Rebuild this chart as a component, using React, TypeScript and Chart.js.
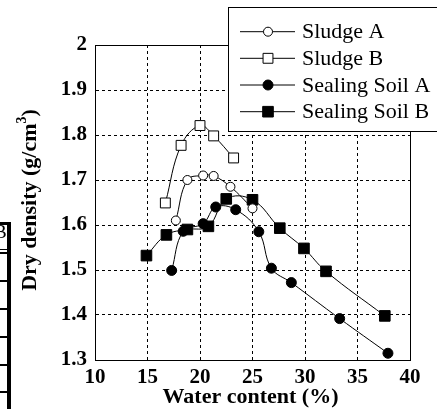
import React, { useEffect, useRef } from "react";
import { Chart, registerables } from "chart.js";

Chart.register(...registerables);

// Compaction curves: water content (%) vs dry density (g/cm3)
const sludgeAWater = [17.7, 18.8, 20.3, 21.3, 22.9, 25.0];
const sludgeADensity = [1.61, 1.70, 1.71, 1.709, 1.685, 1.637];

const sludgeBWater = [16.7, 18.2, 20.0, 21.3, 23.2];
const sludgeBDensity = [1.649, 1.777, 1.821, 1.798, 1.749];

const sealingAWater = [17.3, 18.4, 20.3, 21.5, 23.4, 25.6, 26.8, 28.7, 33.3, 37.9];
const sealingADensity = [1.499, 1.586, 1.603, 1.64, 1.634, 1.585, 1.504, 1.472, 1.392, 1.315];

const sealingBWater = [14.9, 16.8, 18.8, 20.8, 22.5, 25.0, 27.6, 29.9, 32.0, 37.6];
const sealingBDensity = [1.532, 1.578, 1.59, 1.597, 1.658, 1.656, 1.593, 1.548, 1.497, 1.398];

const seriesNames = ["Sludge A", "Sludge B", "Sealing Soil A", "Sealing Soil B"];

const xTitle = "Water content (%)";
const yTitleMain = "Dry density (g/cm";
const yTitleSup = "3";
const yTitleEnd = ")";

const SERIF = '"Liberation Serif", "Times New Roman", Times, serif';

const toPoints = (xs: number[], ys: number[]) => xs.map((x, i) => ({ x, y: ys[i] }));

// Solid frame around the plotting area (grid lines are dashed)
const framePlugin = {
  id: "frame",
  beforeDatasetsDraw(chart: any) {
    const { ctx, chartArea } = chart;
    const l = Math.round(chartArea.left) + 0.5;
    const t = Math.round(chartArea.top) + 0.5;
    const r = Math.round(chartArea.right) + 0.5;
    const b = Math.round(chartArea.bottom) + 0.5;
    ctx.save();
    ctx.setLineDash([]);
    ctx.strokeStyle = "#000";
    ctx.lineWidth = 1;
    ctx.strokeRect(l, t, r - l, b - t);
    ctx.restore();
  },
};

// Axis titles, including the superscript in the density unit
const titlesPlugin = {
  id: "titles",
  afterDraw(chart: any) {
    const { ctx, chartArea } = chart;
    ctx.save();
    ctx.fillStyle = "#000";
    ctx.font = `bold 22px ${SERIF}`;
    ctx.textAlign = "center";
    ctx.textBaseline = "middle";
    ctx.fillText(xTitle, (chartArea.left + chartArea.right) / 2 - 2, 397);

    const mainFont = `bold 22px ${SERIF}`;
    const supFont = `bold 14px ${SERIF}`;
    ctx.font = mainFont;
    const wMain = ctx.measureText(yTitleMain).width;
    const wEnd = ctx.measureText(yTitleEnd).width;
    ctx.font = supFont;
    const wSup = ctx.measureText(yTitleSup).width;
    const total = wMain + wSup + wEnd;
    ctx.translate(30, 200);
    ctx.rotate(-Math.PI / 2);
    ctx.textAlign = "left";
    let x = -total / 2;
    ctx.font = mainFont;
    ctx.fillText(yTitleMain, x, 0);
    x += wMain;
    ctx.font = supFont;
    ctx.fillText(yTitleSup, x, -8);
    x += wSup;
    ctx.font = mainFont;
    ctx.fillText(yTitleEnd, x, 0);
    ctx.restore();
  },
};

// Boxed legend with line-and-marker samples
const legendPlugin = {
  id: "boxLegend",
  afterDraw(chart: any) {
    const { ctx } = chart;
    const boxL = 228.5;
    const boxT = 7.5;
    const boxB = 131.5;
    ctx.save();
    ctx.setLineDash([]);
    ctx.fillStyle = "#fff";
    ctx.fillRect(boxL, boxT, 440 - boxL, boxB - boxT);
    ctx.strokeStyle = "#000";
    ctx.lineWidth = 1;
    ctx.strokeRect(boxL, boxT, 440 - boxL, boxB - boxT);
    const rowY = [31.7, 58.3, 85, 111.7];
    chart.data.datasets.forEach((ds: any, i: number) => {
      const y = rowY[i];
      ctx.strokeStyle = "#000";
      ctx.lineWidth = 1;
      ctx.beginPath();
      ctx.moveTo(240, y);
      ctx.lineTo(295, y);
      ctx.stroke();
      const cx = 268;
      ctx.fillStyle = ds.pointBackgroundColor;
      ctx.beginPath();
      if (ds.pointStyle === "rect") {
        const s = Math.SQRT1_2 * ds.pointRadius;
        ctx.rect(cx - s, y - s, 2 * s, 2 * s);
      } else {
        ctx.arc(cx, y, ds.pointRadius, 0, Math.PI * 2);
      }
      ctx.fill();
      ctx.stroke();
      ctx.fillStyle = "#000";
      ctx.font = `22px ${SERIF}`;
      ctx.textAlign = "left";
      ctx.textBaseline = "middle";
      ctx.fillText(ds.label, 302, y + 1);
    });
    ctx.restore();
  },
};

export default function App() {
  const canvasRef = useRef<HTMLCanvasElement>(null);

  useEffect(() => {
    const canvas = canvasRef.current;
    if (!canvas) return;

    const common = {
      borderColor: "#000",
      borderWidth: 1,
      pointBorderColor: "#000",
      pointBorderWidth: 1,
      tension: 0.4,
      showLine: true,
      fill: false,
      clip: false as any,
    };

    const tickFont = { family: SERIF, size: 21, weight: "bold" };

    const chart = new Chart(canvas, {
      type: "line",
      data: {
        datasets: [
          {
            ...common,
            label: seriesNames[0],
            data: toPoints(sludgeAWater, sludgeADensity),
            pointStyle: "circle",
            pointRadius: 4.5,
            pointBackgroundColor: "#fff",
          },
          {
            ...common,
            label: seriesNames[1],
            data: toPoints(sludgeBWater, sludgeBDensity),
            pointStyle: "rect",
            pointRadius: 7,
            pointBackgroundColor: "#fff",
          },
          {
            ...common,
            label: seriesNames[2],
            data: toPoints(sealingAWater, sealingADensity),
            pointStyle: "circle",
            pointRadius: 5,
            pointBackgroundColor: "#000",
          },
          {
            ...common,
            label: seriesNames[3],
            data: toPoints(sealingBWater, sealingBDensity),
            pointStyle: "rect",
            pointRadius: 7.5,
            pointBackgroundColor: "#000",
          },
        ] as any,
      },
      options: {
        responsive: false,
        devicePixelRatio: 1,
        animation: false,
        layout: { padding: { top: 45, right: 27, left: 0, bottom: 0 } },
        plugins: {
          legend: { display: false },
          tooltip: { enabled: false },
        },
        scales: {
          x: {
            type: "linear",
            min: 10,
            max: 40,
            ticks: {
              stepSize: 5,
              color: "#000",
              padding: 5,
              font: tickFont,
              callback: (v: any) => String(Math.round(Number(v))),
            },
            grid: { color: "#000", lineWidth: 1, drawTicks: false },
            border: { display: true, color: "#000", width: 1, dash: [3, 3] },
            afterFit: (scale: any) => {
              scale.height = 49;
            },
          },
          y: {
            type: "linear",
            min: 1.3,
            max: 2,
            ticks: {
              stepSize: 0.1,
              color: "#000",
              padding: 8,
              font: tickFont,
              callback: (v: any) => {
                const n = Number(v);
                return Math.abs(n - 2) < 1e-6 ? "2" : n.toFixed(1);
              },
            },
            grid: { color: "#000", lineWidth: 1, drawTicks: false },
            border: { display: true, color: "#000", width: 1, dash: [3, 3] },
            afterFit: (scale: any) => {
              scale.width = 95;
            },
          },
        },
      } as any,
      plugins: [framePlugin, titlesPlugin, legendPlugin],
    });

    return () => chart.destroy();
  }, []);

  const rule = (top: number, h: number) => (
    <div style={{ position: "absolute", left: 0, top, width: 10, height: h, background: "#000" }} />
  );

  return (
    <div style={{ position: "absolute", left: 0, top: 0, width: 437, height: 409, background: "#fff", overflow: "hidden" }}>
      <canvas ref={canvasRef} width={437} height={409} style={{ display: "block" }} />
      {/* edge of the neighbouring table */}
      <div style={{ position: "absolute", left: 7, top: 222, width: 4, height: 187, background: "#000" }} />
      {rule(222, 3)}
      {rule(249, 1)}
      {rule(252, 2)}
      {rule(280, 2)}
      {rule(308, 2)}
      {rule(336, 2)}
      {rule(364, 2)}
      {rule(391, 2)}
      <div style={{ position: "absolute", left: 0, top: 224, width: 7, height: 20, overflow: "hidden" }}>
        <span style={{ position: "absolute", left: -6, top: -2, fontFamily: SERIF, fontSize: 19, lineHeight: "20px", color: "#000" }}>B</span>
      </div>
    </div>
  );
}
